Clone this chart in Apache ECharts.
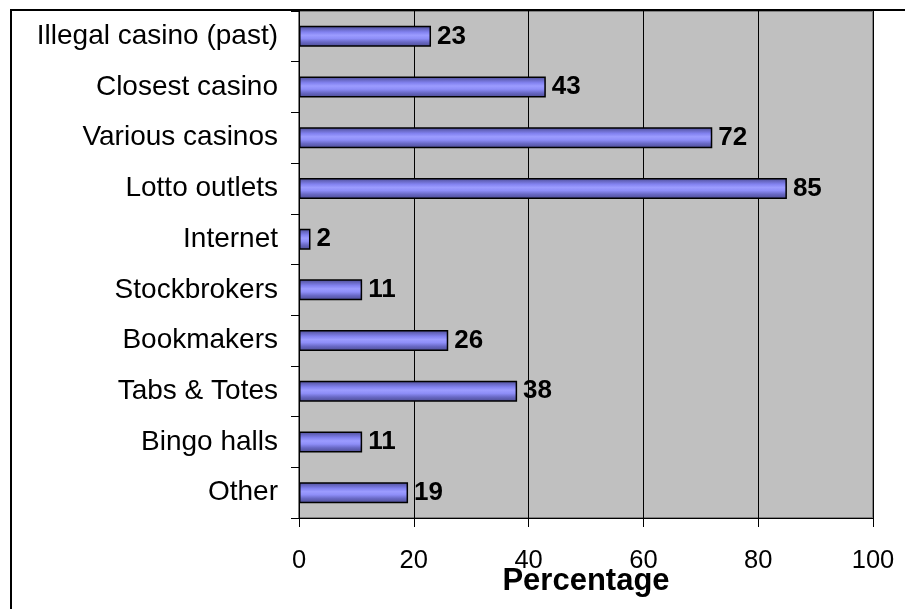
<!DOCTYPE html>
<html>
<head>
<meta charset="utf-8">
<script src="https://cdn.jsdelivr.net/npm/echarts@6/dist/echarts.min.js"></script>
<style>
  html, body { margin: 0; padding: 0; background: #ffffff; }
  #chart { width: 905px; height: 609px; }
</style>
</head>
<body>
<div id="chart"></div>
<script>
// Gambling venues used, top to bottom
const categories = [
  'Illegal casino (past)',
  'Closest casino',
  'Various casinos',
  'Lotto outlets',
  'Internet',
  'Stockbrokers',
  'Bookmakers',
  'Tabs & Totes',
  'Bingo halls',
  'Other'
];
const percentages = [23, 43, 72, 85, 2, 11, 26, 38, 11, 19];
const xTicks = [0, 20, 40, 60, 80, 100];
const xAxisTitle = 'Percentage';

const FONT = '"Liberation Sans", Arial, sans-serif';

// Cylinder-like shading for the bars
const barFill = new echarts.graphic.LinearGradient(0, 0, 0, 1, [
  { offset: 0.00, color: '#4a4a90' },
  { offset: 0.16, color: '#6868c4' },
  { offset: 0.30, color: '#8282f0' },
  { offset: 0.45, color: '#9c9cff' },
  { offset: 0.60, color: '#8e8ef8' },
  { offset: 0.78, color: '#6868c4' },
  { offset: 1.00, color: '#4a4a90' }
]);

const chart = echarts.init(document.getElementById('chart'), null, { renderer: 'canvas' });

chart.setOption({
  animation: false,
  backgroundColor: '#ffffff',
  graphic: [
    {
      type: 'rect',
      silent: true,
      z: 100,
      shape: { x: 11, y: 10, width: 1200, height: 1200 },
      style: { fill: 'none', stroke: '#000000', lineWidth: 2 }
    }
  ],
  grid: {
    left: 299,
    top: 11,
    right: 32,
    bottom: 91,
    show: true,
    backgroundColor: '#c0c0c0',
    borderColor: '#808080',
    borderWidth: 2,
    containLabel: false
  },
  xAxis: {
    type: 'value',
    min: xTicks[0],
    max: xTicks[xTicks.length - 1],
    interval: 20,
    name: xAxisTitle,
    nameLocation: 'middle',
    nameGap: 48,
    nameMoveOverlap: false,
    nameTextStyle: { fontFamily: FONT, fontSize: 31, fontWeight: 'bold', color: '#000000' },
    axisLine: { show: true, lineStyle: { color: '#000000', width: 1 } },
    axisTick: { show: true, length: 9, lineStyle: { color: '#000000', width: 1 } },
    axisLabel: { fontFamily: FONT, fontSize: 25.5, color: '#000000', margin: 30 },
    splitLine: { show: true, lineStyle: { color: '#000000', width: 1 } }
  },
  yAxis: {
    type: 'category',
    data: categories,
    inverse: true,
    axisLine: { show: true, lineStyle: { color: '#000000', width: 1 } },
    axisTick: { show: true, length: 8, lineStyle: { color: '#000000', width: 1 } },
    axisLabel: { fontFamily: FONT, fontSize: 28, color: '#000000', margin: 21 },
    splitLine: { show: false }
  },
  series: [
    {
      type: 'bar',
      data: percentages,
      barWidth: 21,
      itemStyle: {
        color: barFill,
        borderColor: '#000000',
        borderWidth: 1.5
      },
      label: {
        show: true,
        position: 'right',
        distance: 6,
        fontFamily: FONT,
        fontSize: 26,
        fontWeight: 'bold',
        color: '#000000'
      }
    }
  ]
});
</script>
</body>
</html>
